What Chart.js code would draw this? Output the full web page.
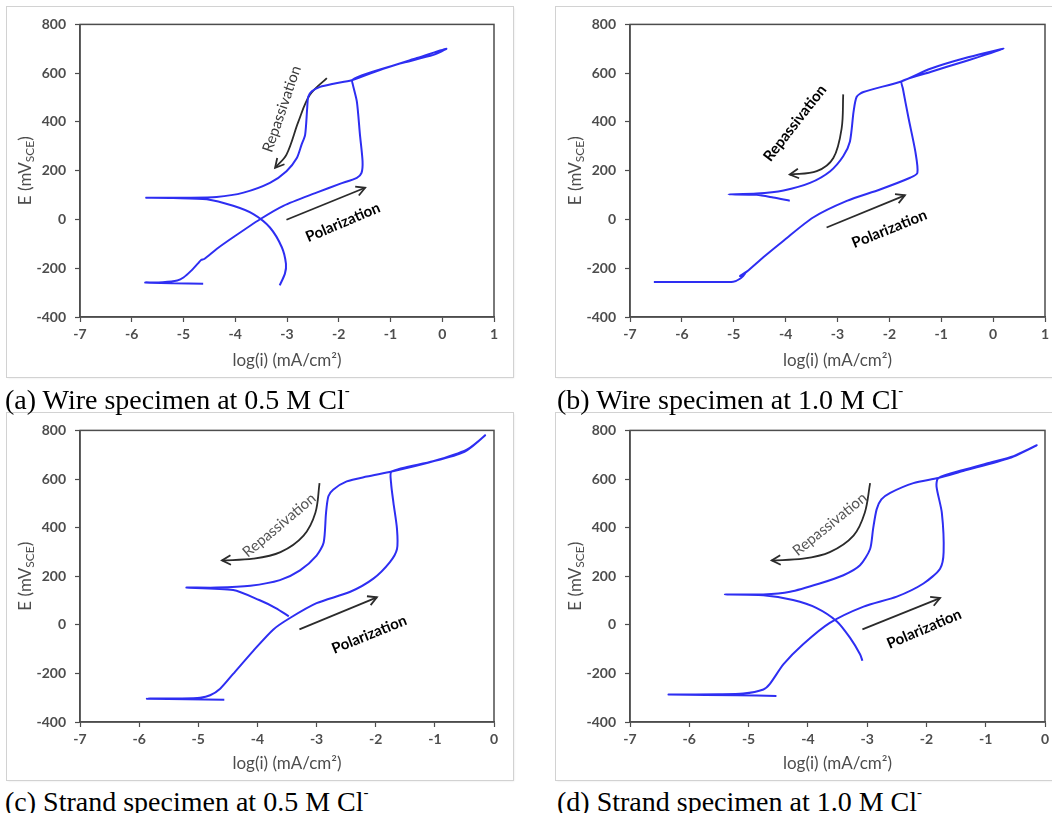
<!DOCTYPE html>
<html>
<head>
<meta charset="utf-8">
<script src="https://cdn.jsdelivr.net/npm/chart.js@4.4.1/dist/chart.umd.min.js"></script>
<style>
  body { margin: 0; background: #fff; width: 1052px; height: 813px; position: relative; overflow: hidden; }
  .panel { position: absolute; outline: 1px solid #d2d2d2; box-shadow: 1px 1px 2px #e2e2e2; background: #fff; }
  .panel canvas { position: absolute; left: 0; top: 0; }
  .cap { position: absolute; font-family: "Liberation Serif", "Times New Roman", serif; font-size: 28px; line-height: 28px; color: #000; white-space: nowrap; }
  .cap sup { font-size: 15px; position: relative; top: -4px; }
</style>
</head>
<body>
<div class="panel" style="left:7px;top:7px;width:506px;height:370px"><canvas id="chartA" width="506" height="370"></canvas></div>
<div class="panel" style="left:556px;top:7px;width:500px;height:370px"><canvas id="chartB" width="500" height="370"></canvas></div>
<div class="panel" style="left:7px;top:413px;width:506px;height:367px"><canvas id="chartC" width="506" height="367"></canvas></div>
<div class="panel" style="left:556px;top:413px;width:500px;height:367px"><canvas id="chartD" width="500" height="367"></canvas></div>

<div class="cap" style="left:5px;top:380px">(a) Wire specimen at 0.5 M Cl<sup>-</sup></div>
<div class="cap" style="left:557px;top:380px">(b) Wire specimen at 1.0 M Cl<sup>-</sup></div>
<div class="cap" style="left:5px;top:782px">(c) Strand specimen at 0.5 M Cl<sup>-</sup></div>
<div class="cap" style="left:557px;top:782px">(d) Strand specimen at 1.0 M Cl<sup>-</sup></div>

<script>
// --- axis ranges ---
const eRange = [-400, 800];
const eStep = 200;
const logIRangeWire = [-7, 1];
const logIRangeStrand = [-7, 0];

// --- (a) wire, 0.5 M Cl- : full cyclic scan (forward, reverse, cathodic tail) ---
const wire05LogI = [-4.62, -5.2, -5.74, -5.4, -5.12, -5.0, -4.86, -4.72, -4.66, -4.6, -4.36, -4.04, -3.52, -3.07, -2.43, -1.98, -1.65, -1.56, -1.54, -1.59, -1.65, -1.73, -1.74, -1.46, -0.82, -0.17, 0.08, -0.49, -1.14, -1.75, -2.10, -2.36, -2.52, -2.59, -2.61, -2.65, -2.72, -2.81, -3.01, -3.33, -3.84, -4.36, -4.94, -5.72, -5.2, -4.55, -4.04, -3.65, -3.33, -3.10, -3.02, -3.04, -3.14];
const wire05E    = [-264, -262, -259, -257, -250, -238, -212, -180, -166, -162, -121, -73, 1, 56, 110, 146, 171, 191, 239, 347, 483, 555, 572, 598, 639, 675, 700, 662, 618, 571, 557, 544, 526, 503, 456, 347, 306, 252, 198, 150, 110, 92, 89, 89, 88, 83, 56, 22, -33, -114, -182, -222, -270];

// --- (b) wire, 1.0 M Cl- ---
const wire10LogI = [-6.54, -5.5, -5.01, -4.88, -4.78, -4.88, -4.75, -4.43, -4.04, -3.47, -2.82, -2.18, -1.60, -1.46, -1.50, -1.63, -1.74, -1.76, -1.21, -0.57, 0.20, -0.57, -1.21, -1.76, -2.50, -2.63, -2.69, -2.76, -2.89, -3.14, -3.53, -4.04, -4.56, -5.10, -4.56, -4.24, -3.92];
const wire10E    = [-256, -256, -255, -243, -222, -232, -214, -155, -87, 8, 76, 123, 171, 191, 279, 415, 537, 567, 605, 647, 700, 660, 618, 567, 523, 503, 442, 320, 259, 198, 150, 119, 106, 103, 101, 90, 77];

// --- (c) strand, 0.5 M Cl- ---
const strand05LogI = [-4.56, -5.2, -5.87, -5.3, -4.97, -4.80, -4.63, -4.41, -4.07, -3.73, -3.45, -3.00, -2.43, -2.04, -1.76, -1.64, -1.64, -1.70, -1.74, -1.73, -1.03, -0.46, -0.15, -0.5, -1.1, -1.73, -2.15, -2.49, -2.72, -2.80, -2.84, -2.88, -3.00, -3.28, -3.62, -4.12, -4.69, -5.20, -4.41, -3.97, -3.69, -3.47];
const strand05E    = [-308, -306, -304, -303, -300, -290, -263, -202, -107, -19, 28, 89, 136, 190, 258, 312, 394, 502, 583, 631, 673, 721, 780, 712, 668, 631, 610, 590, 556, 529, 461, 339, 285, 224, 184, 161, 153, 153, 143, 102, 69, 35];

// --- (d) strand, 1.0 M Cl- ---
const strand10LogI = [-4.53, -5.2, -6.35, -5.5, -5.09, -4.75, -4.64, -4.41, -4.08, -3.63, -3.06, -2.50, -2.05, -1.77, -1.71, -1.74, -1.83, -1.80, -1.38, -0.93, -0.53, -0.14, -0.6, -1.38, -1.80, -2.22, -2.61, -2.76, -2.84, -2.90, -2.95, -3.12, -3.40, -3.80, -4.30, -4.75, -5.40, -4.75, -4.25, -3.85, -3.51, -3.29, -3.12, -3.08];
const strand10E    = [-293, -290, -287, -286, -283, -266, -243, -162, -80, 8, 75, 116, 170, 231, 299, 461, 570, 604, 637, 667, 694, 739, 686, 633, 604, 583, 543, 516, 475, 394, 312, 245, 204, 170, 136, 125, 125, 122, 102, 69, 14, -53, -121, -148];

// --- annotation arrows ---
const repassArrowA = { logI: [-2.23, -2.56, -2.78, -3.01, -3.23], e: [580, 510, 401, 266, 212] };
const polarArrowA  = { logI: [-3.01, -1.49], e: [-1, 130] };
const repassArrowB = { logI: [-2.89, -2.92, -3.08, -3.40, -3.92], e: [513, 374, 252, 198, 184] };
const polarArrowB  = { logI: [-3.21, -1.70], e: [-33, 99] };
const repassArrowC = { logI: [-2.95, -3.02, -3.22, -3.61, -4.07, -4.60], e: [583, 461, 367, 299, 272, 265] };
const polarArrowC  = { logI: [-3.29, -1.98], e: [-19, 113] };
const repassArrowD = { logI: [-2.95, -3.04, -3.23, -3.63, -4.08, -4.61], e: [583, 461, 367, 299, 272, 265] };
const polarArrowD  = { logI: [-3.08, -1.77], e: [-19, 110] };

const SANS = "Lato, 'Open Sans', sans-serif";
const AXIS = "#4d4d4d";
const CURVE = "#2e2ef2";

function toPoints(xs, ys) {
  return xs.map((x, i) => ({ x: x, y: ys[i] }));
}

// box around plot area + arrowheads + rotated labels + y title with subscript
const extras = {
  id: "extras",
  afterDatasetsDraw(chart) {
    const { ctx, chartArea } = chart;
    const o = chart.options.plugins.extras;
    const xs = chart.scales.x, ys = chart.scales.y;

    ctx.save();
    ctx.strokeStyle = AXIS;
    ctx.lineWidth = 1.5;
    ctx.strokeRect(chartArea.left, chartArea.top, chartArea.right - chartArea.left, chartArea.bottom - chartArea.top);

    // arrowheads on arrow datasets
    chart.data.datasets.forEach((ds, i) => {
      if (!ds.arrow) return;
      const pts = chart.getDatasetMeta(i).data;
      const p1 = pts[pts.length - 2], p2 = pts[pts.length - 1];
      const ang = Math.atan2(p2.y - p1.y, p2.x - p1.x);
      const len = 10, spread = 0.5;
      ctx.strokeStyle = ds.borderColor;
      ctx.lineWidth = 1.8;
      ctx.beginPath();
      ctx.moveTo(p2.x - len * Math.cos(ang - spread), p2.y - len * Math.sin(ang - spread));
      ctx.lineTo(p2.x, p2.y);
      ctx.lineTo(p2.x - len * Math.cos(ang + spread), p2.y - len * Math.sin(ang + spread));
      ctx.stroke();
    });

    // rotated notes
    o.notes.forEach(n => {
      ctx.save();
      ctx.translate(xs.getPixelForValue(n.x), ys.getPixelForValue(n.y));
      ctx.rotate(n.angle * Math.PI / 180);
      ctx.font = (n.bold ? "bold " : "") + "15px " + SANS;
      ctx.fillStyle = n.color;
      ctx.textAlign = "center";
      ctx.textBaseline = "middle";
      ctx.fillText(n.text, 0, 0);
      ctx.restore();
    });

    // y title: E (mV_SCE)
    ctx.translate(o.yTitleX, (chartArea.top + chartArea.bottom) / 2);
    ctx.rotate(-Math.PI / 2);
    ctx.fillStyle = AXIS;
    ctx.textBaseline = "alphabetic";
    const big = "17px " + SANS, small = "12px " + SANS;
    ctx.font = big;
    const wA = ctx.measureText("E (mV").width, wC = ctx.measureText(")").width;
    ctx.font = small;
    const wB = ctx.measureText("SCE").width;
    let x0 = -(wA + wB + wC) / 2;
    ctx.font = big;
    ctx.fillText("E (mV", x0, 6);
    ctx.font = small;
    ctx.fillText("SCE", x0 + wA, 9);
    ctx.font = big;
    ctx.fillText(")", x0 + wA + wB, 6);
    ctx.restore();
  }
};

function makeChart(id, cfg) {
  return new Chart(document.getElementById(id), {
    type: "scatter",
    data: {
      datasets: [
        { data: toPoints(cfg.logI, cfg.e), showLine: true, borderColor: CURVE, borderWidth: 2, pointRadius: 0, tension: 0.25, fill: false },
        { data: toPoints(cfg.repass.logI, cfg.repass.e), showLine: true, borderColor: "#2b2b2b", borderWidth: 1.8, pointRadius: 0, tension: 0.35, arrow: true },
        { data: toPoints(cfg.polar.logI, cfg.polar.e), showLine: true, borderColor: "#2b2b2b", borderWidth: 1.8, pointRadius: 0, arrow: true }
      ]
    },
    options: {
      responsive: false,
      animation: false,
      devicePixelRatio: 1,
      layout: { padding: { top: cfg.padTop, right: cfg.padRight, left: 0, bottom: 0 } },
      plugins: {
        legend: { display: false },
        tooltip: { enabled: false },
        extras: { notes: cfg.notes, yTitleX: cfg.yTitleX }
      },
      scales: {
        x: {
          type: "linear",
          min: cfg.xRange[0],
          max: cfg.xRange[1],
          afterFit: s => { s.height = cfg.xHeight; },
          ticks: { stepSize: 1, color: AXIS, font: { family: SANS, size: 14, weight: "bold" }, padding: 4, maxRotation: 0 },
          grid: { drawOnChartArea: false, color: AXIS, tickLength: 5, tickWidth: 1.2 },
          border: { color: AXIS, width: 1.5 },
          title: { display: true, text: "log(i) (mA/cm²)", color: AXIS, font: { family: SANS, size: 17 }, padding: { top: 4, bottom: 6 } }
        },
        y: {
          type: "linear",
          min: eRange[0],
          max: eRange[1],
          afterFit: s => { s.width = cfg.yWidth; },
          ticks: { stepSize: eStep, color: AXIS, font: { family: SANS, size: 14, weight: "bold" }, padding: 9 },
          grid: { drawOnChartArea: false, color: AXIS, tickLength: 5, tickWidth: 1.2 },
          border: { color: AXIS, width: 1.5 }
        }
      }
    },
    plugins: [extras]
  });
}

document.addEventListener("DOMContentLoaded", () => {
  makeChart("chartA", {
    logI: wire05LogI, e: wire05E, repass: repassArrowA, polar: polarArrowA,
    xRange: logIRangeWire, padTop: 15, padRight: 19, yWidth: 73, xHeight: 60, yTitleX: 18,
    notes: [
      { text: "Repassivation", x: -3.10, y: 453, angle: -71, bold: false, color: "#3a3a3a" },
      { text: "Polarization", x: -1.92, y: -12, angle: -23, bold: true, color: "#000" }
    ]
  });
  makeChart("chartB", {
    logI: wire10LogI, e: wire10E, repass: repassArrowB, polar: polarArrowB,
    xRange: logIRangeWire, padTop: 15, padRight: 11, yWidth: 74, xHeight: 60, yTitleX: 19,
    notes: [
      { text: "Repassivation", x: -3.82, y: 395, angle: -52, bold: true, color: "#000" },
      { text: "Polarization", x: -2.0, y: -39, angle: -22, bold: true, color: "#000" }
    ]
  });
  makeChart("chartC", {
    logI: strand05LogI, e: strand05E, repass: repassArrowC, polar: polarArrowC,
    xRange: logIRangeStrand, padTop: 14, padRight: 19, yWidth: 73, xHeight: 58, yTitleX: 18,
    notes: [
      { text: "Repassivation", x: -3.63, y: 410, angle: -40, bold: false, color: "#555" },
      { text: "Polarization", x: -2.11, y: -40, angle: -22, bold: true, color: "#000" }
    ]
  });
  makeChart("chartD", {
    logI: strand10LogI, e: strand10E, repass: repassArrowD, polar: polarArrowD,
    xRange: logIRangeStrand, padTop: 14, padRight: 11, yWidth: 74, xHeight: 58, yTitleX: 19,
    notes: [
      { text: "Repassivation", x: -3.63, y: 414, angle: -39, bold: false, color: "#555" },
      { text: "Polarization", x: -2.04, y: -17, angle: -23, bold: true, color: "#000" }
    ]
  });
});
</script>
</body>
</html>
